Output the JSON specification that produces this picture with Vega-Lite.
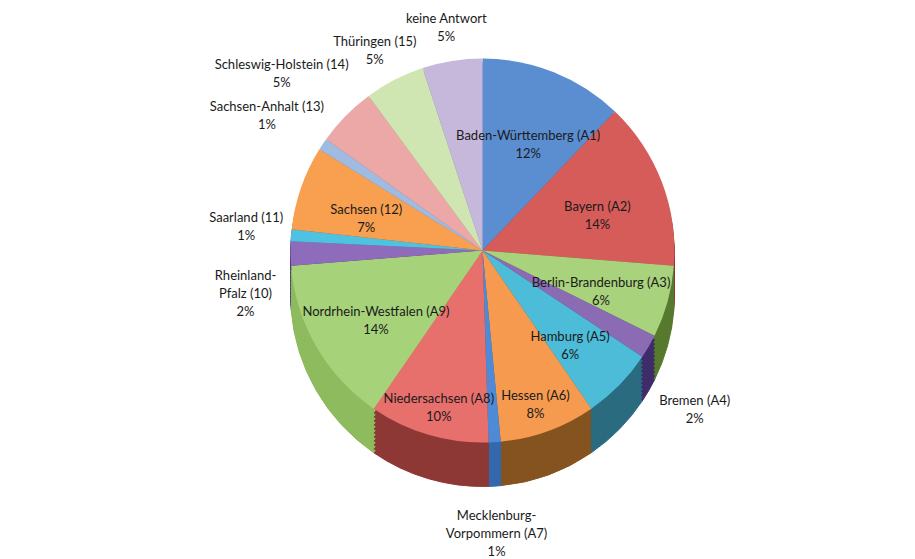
{
  "$schema": "https://vega.github.io/schema/vega-lite/v6.json",
  "width": 915,
  "height": 559,
  "autosize": {"type": "fit", "contains": "padding"},
  "padding": {"left": 50, "right": 0, "top": 16, "bottom": 44},
  "background": "white",
  "config": {"view": {"stroke": null}},
  "data": {
    "values": [
      {"order": 1, "name": "Baden-Württemberg (A1)", "label": "Baden-Württemberg (A1)\n12%", "share": 12},
      {"order": 2, "name": "Bayern (A2)", "label": "Bayern (A2)\n14%", "share": 14},
      {"order": 3, "name": "Berlin-Brandenburg (A3)", "label": "Berlin-Brandenburg (A3)\n6%", "share": 6},
      {"order": 4, "name": "Bremen (A4)", "label": "Bremen (A4)\n2%", "share": 2},
      {"order": 5, "name": "Hamburg (A5)", "label": "Hamburg (A5)\n6%", "share": 6},
      {"order": 6, "name": "Hessen (A6)", "label": "Hessen (A6)\n8%", "share": 8},
      {"order": 7, "name": "Mecklenburg-Vorpommern (A7)", "label": "Mecklenburg-\nVorpommern (A7)\n1%", "share": 1},
      {"order": 8, "name": "Niedersachsen (A8)", "label": "Niedersachsen (A8)\n10%", "share": 10},
      {"order": 9, "name": "Nordrhein-Westfalen (A9)", "label": "Nordrhein-Westfalen (A9)\n14%", "share": 14},
      {"order": 10, "name": "Rheinland-Pfalz (10)", "label": "Rheinland-\nPfalz (10)\n2%", "share": 2},
      {"order": 11, "name": "Saarland (11)", "label": "Saarland (11)\n1%", "share": 1},
      {"order": 12, "name": "Sachsen (12)", "label": "Sachsen (12)\n7%", "share": 7},
      {"order": 13, "name": "Sachsen-Anhalt (13)", "label": "Sachsen-Anhalt (13)\n1%", "share": 1},
      {"order": 14, "name": "Schleswig-Holstein (14)", "label": "Schleswig-Holstein (14)\n5%", "share": 5},
      {"order": 15, "name": "Thüringen (15)", "label": "Thüringen (15)\n5%", "share": 5},
      {"order": 16, "name": "keine Antwort", "label": "keine Antwort\n5%", "share": 5}
    ]
  },
  "encoding": {
    "theta": {"field": "share", "type": "quantitative", "stack": true},
    "order": {"field": "order", "type": "quantitative"}
  },
  "layer": [
    {"mark": {"type": "arc", "outerRadius": 192, "yOffset": 44, "strokeWidth": 1}, "encoding": {"color": {"field": "name", "type": "nominal", "legend": null, "scale": {"domain": ["Baden-Württemberg (A1)","Bayern (A2)","Berlin-Brandenburg (A3)","Bremen (A4)","Hamburg (A5)","Hessen (A6)","Mecklenburg-Vorpommern (A7)","Niedersachsen (A8)","Nordrhein-Westfalen (A9)","Rheinland-Pfalz (10)","Saarland (11)","Sachsen (12)","Sachsen-Anhalt (13)","Schleswig-Holstein (14)","Thüringen (15)","keine Antwort"], "range": ["#36609A","#8E3432","#577A2E","#3F2C6A","#2B6B80","#85531F","#3468AE","#8E3835","#8DBB5E","#4D3A7A","#2A7A92","#8E5A1F","#5F7FA8","#A56565","#8AA56A","#8A7CA5"]}}, "stroke": {"field": "name", "type": "nominal", "legend": null, "scale": {"domain": ["Baden-Württemberg (A1)","Bayern (A2)","Berlin-Brandenburg (A3)","Bremen (A4)","Hamburg (A5)","Hessen (A6)","Mecklenburg-Vorpommern (A7)","Niedersachsen (A8)","Nordrhein-Westfalen (A9)","Rheinland-Pfalz (10)","Saarland (11)","Sachsen (12)","Sachsen-Anhalt (13)","Schleswig-Holstein (14)","Thüringen (15)","keine Antwort"], "range": ["#36609A","#8E3432","#577A2E","#3F2C6A","#2B6B80","#85531F","#3468AE","#8E3835","#8DBB5E","#4D3A7A","#2A7A92","#8E5A1F","#5F7FA8","#A56565","#8AA56A","#8A7CA5"]}}}},
    {"mark": {"type": "arc", "outerRadius": 192, "yOffset": 40, "strokeWidth": 1}, "encoding": {"color": {"field": "name", "type": "nominal", "legend": null, "scale": {"domain": ["Baden-Württemberg (A1)","Bayern (A2)","Berlin-Brandenburg (A3)","Bremen (A4)","Hamburg (A5)","Hessen (A6)","Mecklenburg-Vorpommern (A7)","Niedersachsen (A8)","Nordrhein-Westfalen (A9)","Rheinland-Pfalz (10)","Saarland (11)","Sachsen (12)","Sachsen-Anhalt (13)","Schleswig-Holstein (14)","Thüringen (15)","keine Antwort"], "range": ["#36609A","#8E3432","#577A2E","#3F2C6A","#2B6B80","#85531F","#3468AE","#8E3835","#8DBB5E","#4D3A7A","#2A7A92","#8E5A1F","#5F7FA8","#A56565","#8AA56A","#8A7CA5"]}}, "stroke": {"field": "name", "type": "nominal", "legend": null, "scale": {"domain": ["Baden-Württemberg (A1)","Bayern (A2)","Berlin-Brandenburg (A3)","Bremen (A4)","Hamburg (A5)","Hessen (A6)","Mecklenburg-Vorpommern (A7)","Niedersachsen (A8)","Nordrhein-Westfalen (A9)","Rheinland-Pfalz (10)","Saarland (11)","Sachsen (12)","Sachsen-Anhalt (13)","Schleswig-Holstein (14)","Thüringen (15)","keine Antwort"], "range": ["#36609A","#8E3432","#577A2E","#3F2C6A","#2B6B80","#85531F","#3468AE","#8E3835","#8DBB5E","#4D3A7A","#2A7A92","#8E5A1F","#5F7FA8","#A56565","#8AA56A","#8A7CA5"]}}}},
    {"mark": {"type": "arc", "outerRadius": 192, "yOffset": 36, "strokeWidth": 1}, "encoding": {"color": {"field": "name", "type": "nominal", "legend": null, "scale": {"domain": ["Baden-Württemberg (A1)","Bayern (A2)","Berlin-Brandenburg (A3)","Bremen (A4)","Hamburg (A5)","Hessen (A6)","Mecklenburg-Vorpommern (A7)","Niedersachsen (A8)","Nordrhein-Westfalen (A9)","Rheinland-Pfalz (10)","Saarland (11)","Sachsen (12)","Sachsen-Anhalt (13)","Schleswig-Holstein (14)","Thüringen (15)","keine Antwort"], "range": ["#36609A","#8E3432","#577A2E","#3F2C6A","#2B6B80","#85531F","#3468AE","#8E3835","#8DBB5E","#4D3A7A","#2A7A92","#8E5A1F","#5F7FA8","#A56565","#8AA56A","#8A7CA5"]}}, "stroke": {"field": "name", "type": "nominal", "legend": null, "scale": {"domain": ["Baden-Württemberg (A1)","Bayern (A2)","Berlin-Brandenburg (A3)","Bremen (A4)","Hamburg (A5)","Hessen (A6)","Mecklenburg-Vorpommern (A7)","Niedersachsen (A8)","Nordrhein-Westfalen (A9)","Rheinland-Pfalz (10)","Saarland (11)","Sachsen (12)","Sachsen-Anhalt (13)","Schleswig-Holstein (14)","Thüringen (15)","keine Antwort"], "range": ["#36609A","#8E3432","#577A2E","#3F2C6A","#2B6B80","#85531F","#3468AE","#8E3835","#8DBB5E","#4D3A7A","#2A7A92","#8E5A1F","#5F7FA8","#A56565","#8AA56A","#8A7CA5"]}}}},
    {"mark": {"type": "arc", "outerRadius": 192, "yOffset": 32, "strokeWidth": 1}, "encoding": {"color": {"field": "name", "type": "nominal", "legend": null, "scale": {"domain": ["Baden-Württemberg (A1)","Bayern (A2)","Berlin-Brandenburg (A3)","Bremen (A4)","Hamburg (A5)","Hessen (A6)","Mecklenburg-Vorpommern (A7)","Niedersachsen (A8)","Nordrhein-Westfalen (A9)","Rheinland-Pfalz (10)","Saarland (11)","Sachsen (12)","Sachsen-Anhalt (13)","Schleswig-Holstein (14)","Thüringen (15)","keine Antwort"], "range": ["#36609A","#8E3432","#577A2E","#3F2C6A","#2B6B80","#85531F","#3468AE","#8E3835","#8DBB5E","#4D3A7A","#2A7A92","#8E5A1F","#5F7FA8","#A56565","#8AA56A","#8A7CA5"]}}, "stroke": {"field": "name", "type": "nominal", "legend": null, "scale": {"domain": ["Baden-Württemberg (A1)","Bayern (A2)","Berlin-Brandenburg (A3)","Bremen (A4)","Hamburg (A5)","Hessen (A6)","Mecklenburg-Vorpommern (A7)","Niedersachsen (A8)","Nordrhein-Westfalen (A9)","Rheinland-Pfalz (10)","Saarland (11)","Sachsen (12)","Sachsen-Anhalt (13)","Schleswig-Holstein (14)","Thüringen (15)","keine Antwort"], "range": ["#36609A","#8E3432","#577A2E","#3F2C6A","#2B6B80","#85531F","#3468AE","#8E3835","#8DBB5E","#4D3A7A","#2A7A92","#8E5A1F","#5F7FA8","#A56565","#8AA56A","#8A7CA5"]}}}},
    {"mark": {"type": "arc", "outerRadius": 192, "yOffset": 28, "strokeWidth": 1}, "encoding": {"color": {"field": "name", "type": "nominal", "legend": null, "scale": {"domain": ["Baden-Württemberg (A1)","Bayern (A2)","Berlin-Brandenburg (A3)","Bremen (A4)","Hamburg (A5)","Hessen (A6)","Mecklenburg-Vorpommern (A7)","Niedersachsen (A8)","Nordrhein-Westfalen (A9)","Rheinland-Pfalz (10)","Saarland (11)","Sachsen (12)","Sachsen-Anhalt (13)","Schleswig-Holstein (14)","Thüringen (15)","keine Antwort"], "range": ["#36609A","#8E3432","#577A2E","#3F2C6A","#2B6B80","#85531F","#3468AE","#8E3835","#8DBB5E","#4D3A7A","#2A7A92","#8E5A1F","#5F7FA8","#A56565","#8AA56A","#8A7CA5"]}}, "stroke": {"field": "name", "type": "nominal", "legend": null, "scale": {"domain": ["Baden-Württemberg (A1)","Bayern (A2)","Berlin-Brandenburg (A3)","Bremen (A4)","Hamburg (A5)","Hessen (A6)","Mecklenburg-Vorpommern (A7)","Niedersachsen (A8)","Nordrhein-Westfalen (A9)","Rheinland-Pfalz (10)","Saarland (11)","Sachsen (12)","Sachsen-Anhalt (13)","Schleswig-Holstein (14)","Thüringen (15)","keine Antwort"], "range": ["#36609A","#8E3432","#577A2E","#3F2C6A","#2B6B80","#85531F","#3468AE","#8E3835","#8DBB5E","#4D3A7A","#2A7A92","#8E5A1F","#5F7FA8","#A56565","#8AA56A","#8A7CA5"]}}}},
    {"mark": {"type": "arc", "outerRadius": 192, "yOffset": 24, "strokeWidth": 1}, "encoding": {"color": {"field": "name", "type": "nominal", "legend": null, "scale": {"domain": ["Baden-Württemberg (A1)","Bayern (A2)","Berlin-Brandenburg (A3)","Bremen (A4)","Hamburg (A5)","Hessen (A6)","Mecklenburg-Vorpommern (A7)","Niedersachsen (A8)","Nordrhein-Westfalen (A9)","Rheinland-Pfalz (10)","Saarland (11)","Sachsen (12)","Sachsen-Anhalt (13)","Schleswig-Holstein (14)","Thüringen (15)","keine Antwort"], "range": ["#36609A","#8E3432","#577A2E","#3F2C6A","#2B6B80","#85531F","#3468AE","#8E3835","#8DBB5E","#4D3A7A","#2A7A92","#8E5A1F","#5F7FA8","#A56565","#8AA56A","#8A7CA5"]}}, "stroke": {"field": "name", "type": "nominal", "legend": null, "scale": {"domain": ["Baden-Württemberg (A1)","Bayern (A2)","Berlin-Brandenburg (A3)","Bremen (A4)","Hamburg (A5)","Hessen (A6)","Mecklenburg-Vorpommern (A7)","Niedersachsen (A8)","Nordrhein-Westfalen (A9)","Rheinland-Pfalz (10)","Saarland (11)","Sachsen (12)","Sachsen-Anhalt (13)","Schleswig-Holstein (14)","Thüringen (15)","keine Antwort"], "range": ["#36609A","#8E3432","#577A2E","#3F2C6A","#2B6B80","#85531F","#3468AE","#8E3835","#8DBB5E","#4D3A7A","#2A7A92","#8E5A1F","#5F7FA8","#A56565","#8AA56A","#8A7CA5"]}}}},
    {"mark": {"type": "arc", "outerRadius": 192, "yOffset": 20, "strokeWidth": 1}, "encoding": {"color": {"field": "name", "type": "nominal", "legend": null, "scale": {"domain": ["Baden-Württemberg (A1)","Bayern (A2)","Berlin-Brandenburg (A3)","Bremen (A4)","Hamburg (A5)","Hessen (A6)","Mecklenburg-Vorpommern (A7)","Niedersachsen (A8)","Nordrhein-Westfalen (A9)","Rheinland-Pfalz (10)","Saarland (11)","Sachsen (12)","Sachsen-Anhalt (13)","Schleswig-Holstein (14)","Thüringen (15)","keine Antwort"], "range": ["#36609A","#8E3432","#577A2E","#3F2C6A","#2B6B80","#85531F","#3468AE","#8E3835","#8DBB5E","#4D3A7A","#2A7A92","#8E5A1F","#5F7FA8","#A56565","#8AA56A","#8A7CA5"]}}, "stroke": {"field": "name", "type": "nominal", "legend": null, "scale": {"domain": ["Baden-Württemberg (A1)","Bayern (A2)","Berlin-Brandenburg (A3)","Bremen (A4)","Hamburg (A5)","Hessen (A6)","Mecklenburg-Vorpommern (A7)","Niedersachsen (A8)","Nordrhein-Westfalen (A9)","Rheinland-Pfalz (10)","Saarland (11)","Sachsen (12)","Sachsen-Anhalt (13)","Schleswig-Holstein (14)","Thüringen (15)","keine Antwort"], "range": ["#36609A","#8E3432","#577A2E","#3F2C6A","#2B6B80","#85531F","#3468AE","#8E3835","#8DBB5E","#4D3A7A","#2A7A92","#8E5A1F","#5F7FA8","#A56565","#8AA56A","#8A7CA5"]}}}},
    {"mark": {"type": "arc", "outerRadius": 192, "yOffset": 16, "strokeWidth": 1}, "encoding": {"color": {"field": "name", "type": "nominal", "legend": null, "scale": {"domain": ["Baden-Württemberg (A1)","Bayern (A2)","Berlin-Brandenburg (A3)","Bremen (A4)","Hamburg (A5)","Hessen (A6)","Mecklenburg-Vorpommern (A7)","Niedersachsen (A8)","Nordrhein-Westfalen (A9)","Rheinland-Pfalz (10)","Saarland (11)","Sachsen (12)","Sachsen-Anhalt (13)","Schleswig-Holstein (14)","Thüringen (15)","keine Antwort"], "range": ["#36609A","#8E3432","#577A2E","#3F2C6A","#2B6B80","#85531F","#3468AE","#8E3835","#8DBB5E","#4D3A7A","#2A7A92","#8E5A1F","#5F7FA8","#A56565","#8AA56A","#8A7CA5"]}}, "stroke": {"field": "name", "type": "nominal", "legend": null, "scale": {"domain": ["Baden-Württemberg (A1)","Bayern (A2)","Berlin-Brandenburg (A3)","Bremen (A4)","Hamburg (A5)","Hessen (A6)","Mecklenburg-Vorpommern (A7)","Niedersachsen (A8)","Nordrhein-Westfalen (A9)","Rheinland-Pfalz (10)","Saarland (11)","Sachsen (12)","Sachsen-Anhalt (13)","Schleswig-Holstein (14)","Thüringen (15)","keine Antwort"], "range": ["#36609A","#8E3432","#577A2E","#3F2C6A","#2B6B80","#85531F","#3468AE","#8E3835","#8DBB5E","#4D3A7A","#2A7A92","#8E5A1F","#5F7FA8","#A56565","#8AA56A","#8A7CA5"]}}}},
    {"mark": {"type": "arc", "outerRadius": 192, "yOffset": 12, "strokeWidth": 1}, "encoding": {"color": {"field": "name", "type": "nominal", "legend": null, "scale": {"domain": ["Baden-Württemberg (A1)","Bayern (A2)","Berlin-Brandenburg (A3)","Bremen (A4)","Hamburg (A5)","Hessen (A6)","Mecklenburg-Vorpommern (A7)","Niedersachsen (A8)","Nordrhein-Westfalen (A9)","Rheinland-Pfalz (10)","Saarland (11)","Sachsen (12)","Sachsen-Anhalt (13)","Schleswig-Holstein (14)","Thüringen (15)","keine Antwort"], "range": ["#36609A","#8E3432","#577A2E","#3F2C6A","#2B6B80","#85531F","#3468AE","#8E3835","#8DBB5E","#4D3A7A","#2A7A92","#8E5A1F","#5F7FA8","#A56565","#8AA56A","#8A7CA5"]}}, "stroke": {"field": "name", "type": "nominal", "legend": null, "scale": {"domain": ["Baden-Württemberg (A1)","Bayern (A2)","Berlin-Brandenburg (A3)","Bremen (A4)","Hamburg (A5)","Hessen (A6)","Mecklenburg-Vorpommern (A7)","Niedersachsen (A8)","Nordrhein-Westfalen (A9)","Rheinland-Pfalz (10)","Saarland (11)","Sachsen (12)","Sachsen-Anhalt (13)","Schleswig-Holstein (14)","Thüringen (15)","keine Antwort"], "range": ["#36609A","#8E3432","#577A2E","#3F2C6A","#2B6B80","#85531F","#3468AE","#8E3835","#8DBB5E","#4D3A7A","#2A7A92","#8E5A1F","#5F7FA8","#A56565","#8AA56A","#8A7CA5"]}}}},
    {"mark": {"type": "arc", "outerRadius": 192, "yOffset": 8, "strokeWidth": 1}, "encoding": {"color": {"field": "name", "type": "nominal", "legend": null, "scale": {"domain": ["Baden-Württemberg (A1)","Bayern (A2)","Berlin-Brandenburg (A3)","Bremen (A4)","Hamburg (A5)","Hessen (A6)","Mecklenburg-Vorpommern (A7)","Niedersachsen (A8)","Nordrhein-Westfalen (A9)","Rheinland-Pfalz (10)","Saarland (11)","Sachsen (12)","Sachsen-Anhalt (13)","Schleswig-Holstein (14)","Thüringen (15)","keine Antwort"], "range": ["#36609A","#8E3432","#577A2E","#3F2C6A","#2B6B80","#85531F","#3468AE","#8E3835","#8DBB5E","#4D3A7A","#2A7A92","#8E5A1F","#5F7FA8","#A56565","#8AA56A","#8A7CA5"]}}, "stroke": {"field": "name", "type": "nominal", "legend": null, "scale": {"domain": ["Baden-Württemberg (A1)","Bayern (A2)","Berlin-Brandenburg (A3)","Bremen (A4)","Hamburg (A5)","Hessen (A6)","Mecklenburg-Vorpommern (A7)","Niedersachsen (A8)","Nordrhein-Westfalen (A9)","Rheinland-Pfalz (10)","Saarland (11)","Sachsen (12)","Sachsen-Anhalt (13)","Schleswig-Holstein (14)","Thüringen (15)","keine Antwort"], "range": ["#36609A","#8E3432","#577A2E","#3F2C6A","#2B6B80","#85531F","#3468AE","#8E3835","#8DBB5E","#4D3A7A","#2A7A92","#8E5A1F","#5F7FA8","#A56565","#8AA56A","#8A7CA5"]}}}},
    {"mark": {"type": "arc", "outerRadius": 192, "yOffset": 4, "strokeWidth": 1}, "encoding": {"color": {"field": "name", "type": "nominal", "legend": null, "scale": {"domain": ["Baden-Württemberg (A1)","Bayern (A2)","Berlin-Brandenburg (A3)","Bremen (A4)","Hamburg (A5)","Hessen (A6)","Mecklenburg-Vorpommern (A7)","Niedersachsen (A8)","Nordrhein-Westfalen (A9)","Rheinland-Pfalz (10)","Saarland (11)","Sachsen (12)","Sachsen-Anhalt (13)","Schleswig-Holstein (14)","Thüringen (15)","keine Antwort"], "range": ["#36609A","#8E3432","#577A2E","#3F2C6A","#2B6B80","#85531F","#3468AE","#8E3835","#8DBB5E","#4D3A7A","#2A7A92","#8E5A1F","#5F7FA8","#A56565","#8AA56A","#8A7CA5"]}}, "stroke": {"field": "name", "type": "nominal", "legend": null, "scale": {"domain": ["Baden-Württemberg (A1)","Bayern (A2)","Berlin-Brandenburg (A3)","Bremen (A4)","Hamburg (A5)","Hessen (A6)","Mecklenburg-Vorpommern (A7)","Niedersachsen (A8)","Nordrhein-Westfalen (A9)","Rheinland-Pfalz (10)","Saarland (11)","Sachsen (12)","Sachsen-Anhalt (13)","Schleswig-Holstein (14)","Thüringen (15)","keine Antwort"], "range": ["#36609A","#8E3432","#577A2E","#3F2C6A","#2B6B80","#85531F","#3468AE","#8E3835","#8DBB5E","#4D3A7A","#2A7A92","#8E5A1F","#5F7FA8","#A56565","#8AA56A","#8A7CA5"]}}}},
    {"mark": {"type": "arc", "outerRadius": 192}, "encoding": {"color": {"field": "name", "type": "nominal", "legend": null, "scale": {"domain": ["Baden-Württemberg (A1)","Bayern (A2)","Berlin-Brandenburg (A3)","Bremen (A4)","Hamburg (A5)","Hessen (A6)","Mecklenburg-Vorpommern (A7)","Niedersachsen (A8)","Nordrhein-Westfalen (A9)","Rheinland-Pfalz (10)","Saarland (11)","Sachsen (12)","Sachsen-Anhalt (13)","Schleswig-Holstein (14)","Thüringen (15)","keine Antwort"], "range": ["#5B8ED1","#D65C59","#A9D27C","#8C6BB5","#4CBCD8","#F69A50","#4E8AD6","#E8706C","#A6D37A","#8F6CBB","#4EC2E0","#F8A050","#9FBBE2","#EBA8A7","#CFE6B2","#C5B8DB"]}}}},
    {"mark": {"type": "text", "font": "Lato", "fontSize": 13, "lineBreak": "\n", "lineHeight": 18, "fill": "#1a1a1a"},
     "encoding": {"detail": {"field": "name"}, "radius": {"value": 123},
       "text": {"condition": {"test": "datum.share >= 6 && datum.order != 6 && datum.order != 8", "field": "label", "type": "nominal"}, "value": ""}}},
    {"mark": {"type": "text", "font": "Lato", "fontSize": 13, "lineBreak": "\n", "lineHeight": 18, "fill": "#1a1a1a"},
     "encoding": {"detail": {"field": "name"}, "radius": {"value": 155},
       "text": {"condition": {"test": "datum.order == 6 || datum.order == 8", "field": "label", "type": "nominal"}, "value": ""}}},
    {"mark": {"type": "text", "font": "Lato", "fontSize": 13, "lineBreak": "\n", "lineHeight": 18, "fill": "#1a1a1a", "yOffset": 28},
     "encoding": {"detail": {"field": "name"}, "radius": {"value": 245},
       "text": {"condition": {"test": "datum.order == 4", "field": "label", "type": "nominal"}, "value": ""}}},
    {"mark": {"type": "text", "font": "Lato", "fontSize": 13, "lineBreak": "\n", "lineHeight": 18, "fill": "#1a1a1a", "yOffset": 44},
     "encoding": {"detail": {"field": "name"}, "radius": {"value": 222},
       "text": {"condition": {"test": "datum.order == 7", "field": "label", "type": "nominal"}, "value": ""}}},
    {"mark": {"type": "text", "font": "Lato", "fontSize": 13, "lineBreak": "\n", "lineHeight": 18, "fill": "#1a1a1a", "yOffset": 22},
     "encoding": {"detail": {"field": "name"}, "radius": {"value": 237},
       "text": {"condition": {"test": "datum.order == 10", "field": "label", "type": "nominal"}, "value": ""}}},
    {"mark": {"type": "text", "font": "Lato", "fontSize": 13, "lineBreak": "\n", "lineHeight": 18, "fill": "#1a1a1a", "yOffset": -14},
     "encoding": {"detail": {"field": "name"}, "radius": {"value": 237},
       "text": {"condition": {"test": "datum.order == 11", "field": "label", "type": "nominal"}, "value": ""}}},
    {"mark": {"type": "text", "font": "Lato", "fontSize": 13, "lineBreak": "\n", "lineHeight": 18, "fill": "#1a1a1a"},
     "encoding": {"detail": {"field": "name"}, "radius": {"value": 259},
       "text": {"condition": {"test": "datum.order == 13", "field": "label", "type": "nominal"}, "value": ""}}},
    {"mark": {"type": "text", "font": "Lato", "fontSize": 13, "lineBreak": "\n", "lineHeight": 18, "fill": "#1a1a1a", "xOffset": -12},
     "encoding": {"detail": {"field": "name"}, "radius": {"value": 265},
       "text": {"condition": {"test": "datum.order == 14", "field": "label", "type": "nominal"}, "value": ""}}},
    {"mark": {"type": "text", "font": "Lato", "fontSize": 13, "lineBreak": "\n", "lineHeight": 18, "fill": "#1a1a1a"},
     "encoding": {"detail": {"field": "name"}, "radius": {"value": 235},
       "text": {"condition": {"test": "datum.order == 15", "field": "label", "type": "nominal"}, "value": ""}}},
    {"mark": {"type": "text", "font": "Lato", "fontSize": 13, "lineBreak": "\n", "lineHeight": 18, "fill": "#1a1a1a", "yOffset": -5},
     "encoding": {"detail": {"field": "name"}, "radius": {"value": 229},
       "text": {"condition": {"test": "datum.order == 16", "field": "label", "type": "nominal"}, "value": ""}}}
  ],
  "resolve": {"scale": {"color": "independent", "stroke": "independent"}}
}
